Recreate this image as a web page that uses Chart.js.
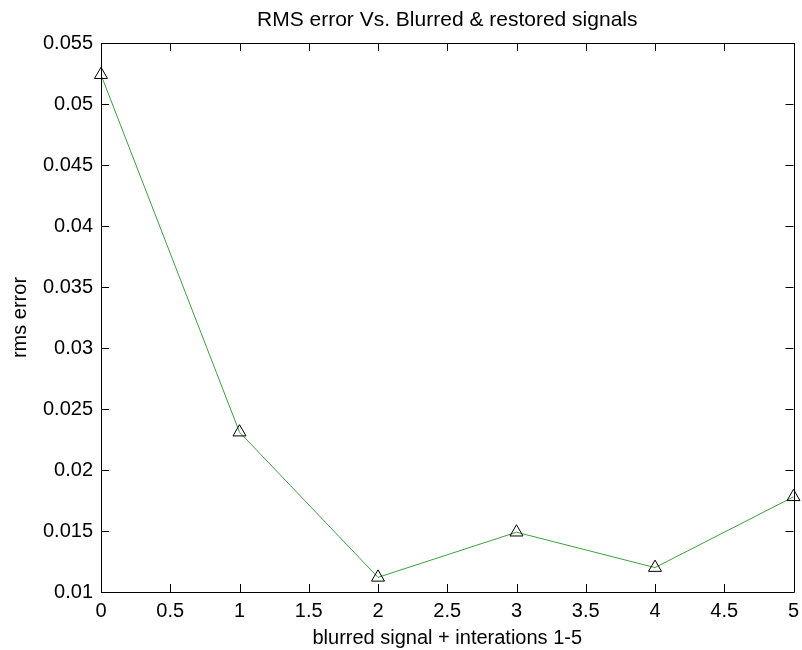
<!DOCTYPE html>
<html>
<head>
<meta charset="utf-8">
<script src="https://cdn.jsdelivr.net/npm/chart.js@4/dist/chart.umd.min.js"></script>
<style>
  html, body { margin: 0; padding: 0; background: #fff; }
  #wrap { width: 802px; height: 650px; }
</style>
</head>
<body>
<div id="wrap"><canvas id="c" width="802" height="650"></canvas></div>
<script>
// ---- Data ----
const xValues = [0, 1, 2, 3, 4, 5];
const rmsError = [0.0524, 0.0231, 0.0112, 0.0149, 0.0120, 0.0178];
const xTickStep = 0.5;
const yTickStep = 0.005;
const titleText = 'RMS error Vs. Blurred & restored signals';
const xLabel = 'blurred signal + interations 1-5';
const yLabel = 'rms error';

const FONT = '"Liberation Sans", Arial, Helvetica, sans-serif';

function fmt(v) {
  return String(parseFloat(v.toFixed(4)));
}

// Box + inward ticks on all four sides, MATLAB style, and title centred over the axes
const boxPlugin = {
  id: 'box',
  afterDatasetsDraw(chart) {
    const { ctx, chartArea: a, scales } = chart;
    const tl = 8;
    ctx.save();
    ctx.strokeStyle = '#000';
    ctx.lineWidth = 1;
    ctx.beginPath();
    ctx.rect(Math.round(a.left) + 0.5, Math.round(a.top) + 0.5,
             Math.round(a.right - a.left), Math.round(a.bottom - a.top));
    ctx.stroke();
    ctx.beginPath();
    scales.x.ticks.forEach(t => {
      const px = Math.round(scales.x.getPixelForValue(t.value)) + 0.5;
      ctx.moveTo(px, a.bottom); ctx.lineTo(px, a.bottom - tl);
      ctx.moveTo(px, a.top); ctx.lineTo(px, a.top + tl);
    });
    scales.y.ticks.forEach(t => {
      const py = Math.round(scales.y.getPixelForValue(t.value)) + 0.5;
      ctx.moveTo(a.left, py); ctx.lineTo(a.left + tl, py);
      ctx.moveTo(a.right, py); ctx.lineTo(a.right - tl, py);
    });
    ctx.stroke();
    // title
    ctx.fillStyle = '#000';
    ctx.font = '21px ' + FONT;
    ctx.textAlign = 'center';
    ctx.textBaseline = 'middle';
    ctx.fillText(titleText, (a.left + a.right) / 2, 20);
    ctx.restore();
  }
};

new Chart(document.getElementById('c'), {
  type: 'line',
  data: {
    datasets: [{
      label: yLabel,
      data: xValues.map((x, i) => ({ x: x, y: rmsError[i] })),
      borderColor: 'rgb(60,160,60)',
      borderWidth: 1,
      pointStyle: 'triangle',
      pointRadius: 7.5,
      pointHoverRadius: 7.5,
      pointBorderColor: '#000',
      pointBackgroundColor: 'rgba(255,255,255,0)',
      pointBorderWidth: 1,
      tension: 0,
      clip: false
    }]
  },
  options: {
    responsive: false,
    animation: false,
    devicePixelRatio: 1,
    layout: { padding: { left: 0, right: 6, top: 43, bottom: 0 } },
    plugins: {
      legend: { display: false },
      tooltip: { enabled: false },
      title: { display: false }
    },
    scales: {
      x: {
        type: 'linear',
        min: 0, max: 5,
        grid: { display: false, drawTicks: false },
        border: { display: false },
        ticks: {
          stepSize: xTickStep,
          color: '#000',
          padding: 7,
          maxRotation: 0,
          autoSkip: false,
          font: { family: FONT, size: 20 },
          callback: v => fmt(v)
        },
        title: {
          display: true,
          text: xLabel,
          color: '#000',
          font: { family: FONT, size: 20 },
          padding: { top: 3, bottom: 0 }
        },
        afterFit(scale) { scale.height = 58; scale.paddingRight = 0; scale.paddingLeft = 0; }
      },
      y: {
        type: 'linear',
        min: 0.01, max: 0.055,
        grid: { display: false, drawTicks: false },
        border: { display: false },
        ticks: {
          stepSize: yTickStep,
          color: '#000',
          padding: 8,
          autoSkip: false,
          font: { family: FONT, size: 20 },
          callback: v => fmt(v)
        },
        title: {
          display: true,
          text: yLabel,
          color: '#000',
          font: { family: FONT, size: 20 },
          padding: { top: 8, bottom: 0 }
        },
        afterFit(scale) { scale.width = 101; scale.paddingTop = 0; scale.paddingBottom = 0; }
      }
    }
  },
  plugins: [boxPlugin]
});
</script>
</body>
</html>
